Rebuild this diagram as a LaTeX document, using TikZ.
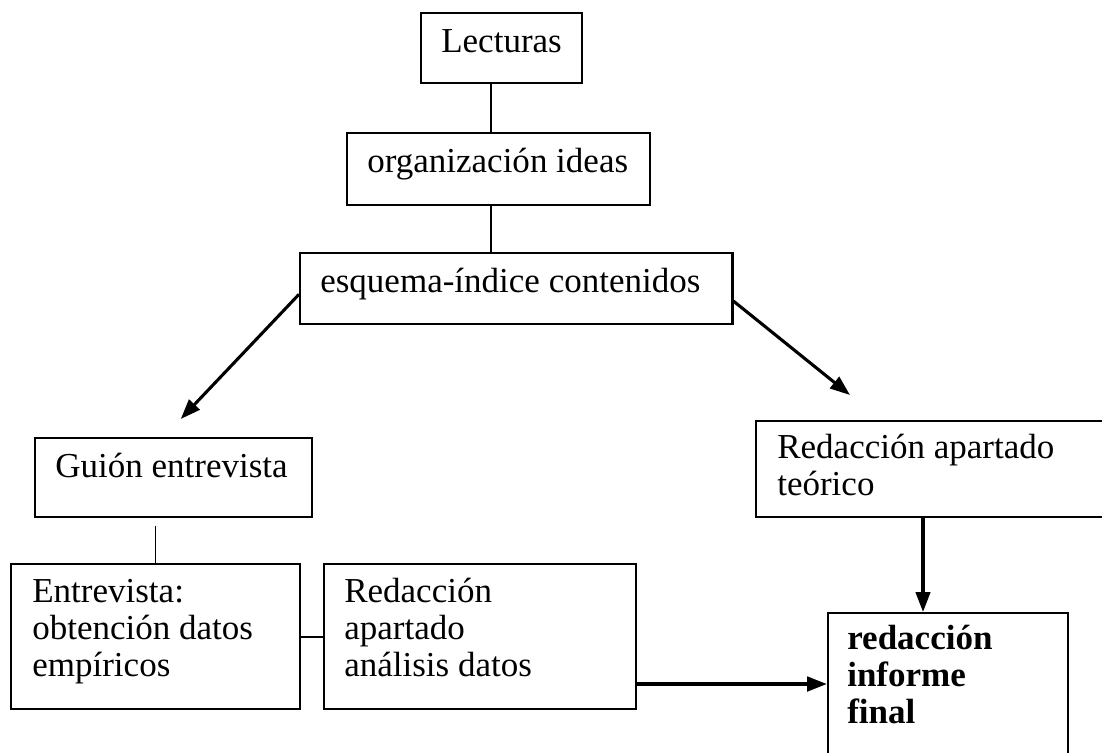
\documentclass[tikz,border=0pt]{standalone}
\usepackage{fontspec}
\setmainfont{Liberation Serif}
\usetikzlibrary{arrows.meta}

\tikzset{
  box/.style={draw,line width=1.7pt,inner sep=0pt,anchor=north west},
  lbl/.style={inner sep=0pt,align=left,anchor=base west,font=\fontsize{24.9pt}{26.3pt}\selectfont},
  link/.style={line width=1pt},
  arrow/.style={line width=2.2pt,-{Triangle[length=0.5cm,width=0.36cm]}}
}

\begin{document}
\begin{tikzpicture}[x=0.025cm,y=-0.025cm]
        \clip (0,0) rectangle (1102,752);
        \fill[white] (0,0) rectangle (1102,752);
        % boxes
        \node[box,minimum width=4.025cm,minimum height=1.75cm](lect) at (420,12){};
        \node[box,minimum width=7.575cm,minimum height=1.8cm](org) at (346,132){};
        \node[box,minimum width=10.8cm,minimum height=1.775cm](esq) at (299,252){};
        \node[box,minimum width=6.925cm,minimum height=1.975cm](guion) at (34,437){};
        \node[box,minimum width=9cm,minimum height=2.4cm](teor) at (755,420){};
        \node[box,minimum width=7.225cm,minimum height=3.625cm](entr) at (10,563){};
        \node[box,minimum width=7.8cm,minimum height=3.625cm](anal) at (323,563){};
        \node[box,minimum width=6cm,minimum height=3.825cm](final) at (827,612){};
        % texts (base = last line)
        \node[lbl](lecttxt) at (441,52){Lecturas};
        \node[lbl](orgtxt) at (367,172){organización ideas};
        \node[lbl](esqtxt) at (320,292){esquema-índice contenidos};
        \node[lbl](guiontxt) at (55,477){Guión entrevista};
        \node[lbl](teortxt) at (777,495){Redacción apartado\\teórico};
        \node[lbl](entrtxt) at (32,676){Entrevista:\\obtención datos\\empíricos};
        \node[lbl](analtxt) at (344,676){Redacción\\apartado\\análisis datos};
        \node[lbl,font=\fontsize{24.9pt}{26.3pt}\selectfont\bfseries](finaltxt) at (847,723){redacción\\informe\\final};
        % connectors
        \coordinate (spine) at (491,0);
        \coordinate (drop) at (923,0);
        \coordinate (outrow) at (0,684);
        \draw[link](lect.south -| spine)--(org.north -| spine);
        \draw[link](org.south -| spine)--(esq.north -| spine);
        \draw[arrow]([yshift=-0.14cm]esq.west)--([shift={(7,-18)}]guion.north);
        \draw[arrow]([yshift=-0.31cm]esq.east)--([shift={(95,-25)}]teor.north west);
        \draw[link]([yshift=-0.18cm]guion.south -| entr.north)--(entr.north);
        \draw[link,line width=1.6pt](entr.east)--(anal.west);
        \draw[arrow](teor.south -| drop)--(final.north -| drop);
        \draw[arrow,line width=2.6pt](anal.east |- outrow)--(final.west |- outrow);
\end{tikzpicture}
\end{document}
